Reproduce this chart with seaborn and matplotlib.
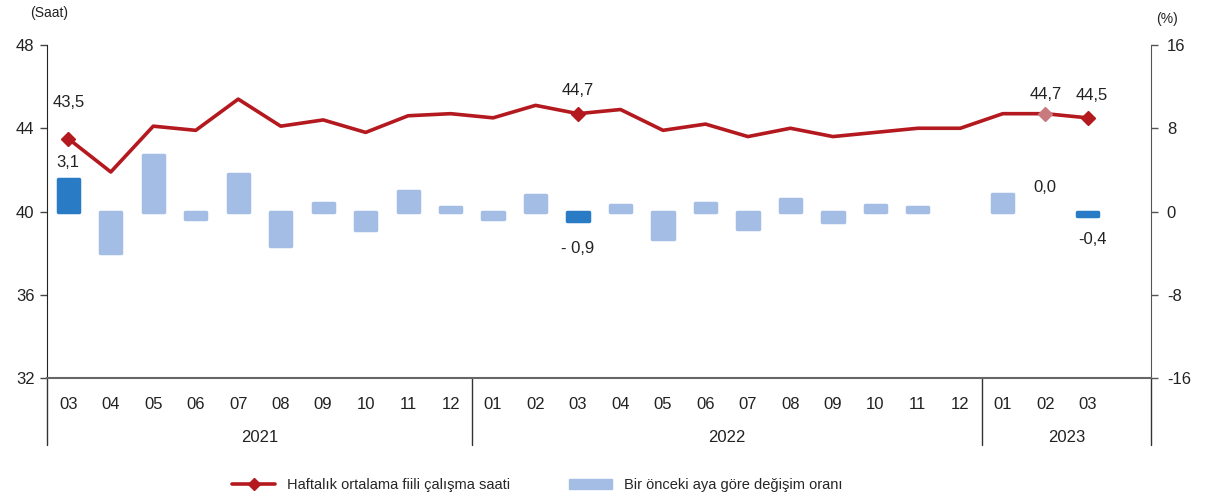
import numpy as np
import pandas as pd
import matplotlib
matplotlib.use("Agg")
import matplotlib.pyplot as plt
import matplotlib.transforms as mtransforms
from matplotlib.lines import Line2D
from matplotlib.patches import Patch
import seaborn as sns

# data
months = ["03", "04", "05", "06", "07", "08", "09", "10", "11", "12",
          "01", "02", "03", "04", "05", "06", "07", "08", "09", "10", "11", "12",
          "01", "02", "03"]
years = ["2021", "2022", "2023"]
hours = [43.5, 41.9, 44.1, 43.9, 45.4, 44.1, 44.4, 43.8, 44.6, 44.7,
         44.5, 45.1, 44.7, 44.9, 43.9, 44.2, 43.6, 44.0, 43.6, 43.8, 44.0, 44.0,
         44.7, 44.7, 44.5]
change = [3.1, -4.0, 5.4, -0.7, 3.6, -3.3, 0.8, -1.8, 2.0, 0.4,
          -0.7, 1.6, -0.9, 0.6, -2.6, 0.8, -1.7, 1.2, -1.0, 0.6, 0.4, 0.0,
          1.7, 0.0, -0.4]
highlight = [0, 12, 24]

sns.set_style("white")
plt.rcParams["font.family"] = ["Liberation Sans", "DejaVu Sans"]
plt.rcParams["axes.unicode_minus"] = False

idx = np.arange(len(months))
df = pd.DataFrame({"x": idx, "saat": hours, "oran": change})
df["vurgu"] = ["a" if i in highlight else "b" for i in idx]

fig = plt.figure(figsize=(12.07, 5.0), dpi=100)
ax = fig.add_axes([0.039, 0.244, 0.915, 0.666])
ax2 = ax.twinx()

bar_col = {"a": "#2A7BC6", "b": "#A3BDE5"}
sns.barplot(data=df, x="x", y="oran", hue="vurgu", palette=bar_col, dodge=False,
            native_scale=True, width=0.5, saturation=1, legend=False, ax=ax2)
for p in ax2.patches:
    if abs(p.get_height()) < 1e-9:
        p.set_visible(False)
        continue
    p.set_edgecolor(p.get_facecolor())
    p.set_linewidth(2.5)
    p.set_joinstyle("round")

red = "#B3191E"
sns.lineplot(data=df, x="x", y="saat", color=red, linewidth=2.6, ax=ax)
mk = df.iloc[[0, 12, 24]]
ax.plot(mk["x"], mk["saat"], linestyle="none", marker="D", markersize=7, color=red)
ax.plot([23], [hours[23]], linestyle="none", marker="D", markersize=7, color="#C97A7E")

ax.set_zorder(ax2.get_zorder() + 1)
ax.patch.set_visible(False)

ax.set_xlim(-0.5, 25.5)
ax.set_ylim(32, 48)
ax.set_yticks([32, 36, 40, 44, 48])
ax2.set_ylim(-16, 16)
ax2.set_yticks([-16, -8, 0, 8, 16])
ax.set_xlabel("")
ax.set_ylabel("")
ax2.set_xlabel("")
ax2.set_ylabel("")
ax.set_xticks(idx)
ax.set_xticklabels(months)

for a in (ax, ax2):
    a.spines["top"].set_visible(False)
ax.spines["left"].set_color("#222222")
ax.spines["right"].set_visible(False)
ax2.spines["left"].set_visible(False)
ax2.spines["right"].set_color("#555555")
ax.spines["bottom"].set_color("#666666")
ax.spines["bottom"].set_linewidth(1.5)
ax2.spines["bottom"].set_visible(False)

ax.tick_params(axis="y", left=True, length=5, width=1, color="#444444",
               labelsize=12, labelcolor="#222222", pad=4)
ax.tick_params(axis="x", bottom=False, labelsize=12, labelcolor="#222222", pad=10)
ax2.tick_params(axis="y", right=True, length=5, width=1, color="#555555",
                labelsize=12, labelcolor="#222222", pad=6)

# year groups under the month labels
trans = mtransforms.blended_transform_factory(ax.transData, ax.transAxes)
for xs in [-0.5, 9.5, 21.5, 25.5]:
    ax.plot([xs, xs], [0, -0.2], transform=trans, color="#333333",
            linewidth=1, clip_on=False)
for label, xc in zip(years, [4.5, 15.5, 23.5]):
    ax.text(xc, -0.18, label, transform=trans, ha="center", va="center",
            fontsize=12, color="#222222")

# value labels
def note(axis, x, y, s, dy):
    axis.annotate(s, (x, y), xytext=(0, dy), textcoords="offset points",
                  ha="center", va="center", fontsize=12, color="#222222")

note(ax, 0, hours[0], "43,5", 26)
note(ax, 12, hours[12], "44,7", 17)
note(ax, 23, hours[23], "44,7", 14)
note(ax, 24.1, hours[24], "44,5", 16)
note(ax2, 0, change[0], "3,1", 12)
note(ax2, 12, change[12], "- 0,9", -20)
note(ax2, 23, change[23], "0,0", 17)
note(ax2, 24.1, change[24], "-0,4", -17)

fig.text(0.025, 0.975, "(Saat)", fontsize=10, color="#222222", va="center")
fig.text(0.958, 0.963, "(%)", fontsize=10, color="#222222", va="center")

handles = [
    Line2D([0], [0], color=red, linewidth=2.6, marker="D", markersize=6),
    Patch(facecolor="#A3BDE5", edgecolor="#A3BDE5"),
]
labels = ["Haftalık ortalama fiili çalışma saati", "Bir önceki aya göre değişim oranı"]
fig.legend(handles, labels, loc="center", bbox_to_anchor=(0.445, 0.03), ncol=2,
           frameon=False, fontsize=10.5, columnspacing=4, handlelength=3)

fig.savefig("out.png", dpi=100)
